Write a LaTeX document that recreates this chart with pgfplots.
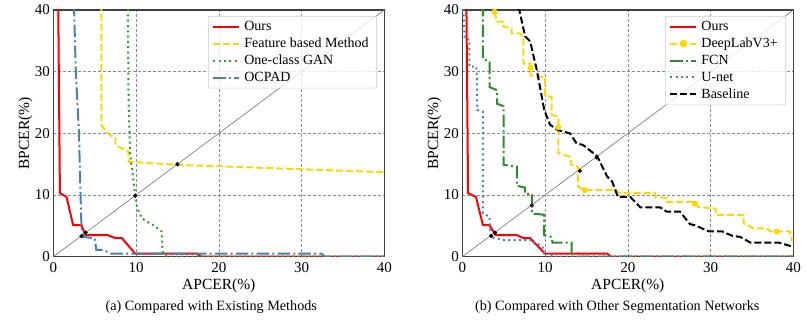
\documentclass[border=0pt]{standalone}
\usepackage{fontspec}
\setmainfont{Liberation Serif}
\usepackage{pgfplots}
\pgfplotsset{compat=1.18}
\definecolor{gold}{HTML}{FFD700}
\definecolor{ggreen}{HTML}{2CA02C}
\definecolor{fgreen}{HTML}{2E8B2E}
\definecolor{sblue}{HTML}{4682B4}
\tikzset{
  mplsolid/.style={line width=2pt},
  mpldashed/.style={line width=2pt, dash pattern=on 7pt off 3pt},
  mpldotted/.style={line width=2pt, dash pattern=on 2pt off 3.3pt},
  mpldashdot/.style={line width=2pt, dash pattern=on 12.5pt off 3.2pt on 2pt off 3.2pt},
}
\pgfplotsset{
  myaxis/.style={
    scale only axis, width=331pt, height=246.7pt,
    xmin=0,xmax=40,ymin=0,ymax=40,
    xtick={0,10,20,30,40}, ytick={0,10,20,30,40},
    grid=major, grid style={dash pattern=on 3pt off 2pt, gray!90, line width=0.6pt},
    major tick length=0pt,
    axis line style={black!75, line width=1.2pt},
    tick label style={font=\fontsize{15}{17}\selectfont},
    xticklabel style={yshift=-2pt},
    label style={font=\fontsize{15.5}{18}\selectfont},
    xlabel style={at={(axis description cs:0.5,0)}, anchor=base, yshift=-33pt},
    ylabel style={at={(axis description cs:0,0.5)}, anchor=center, rotate=0, yshift=28pt},
    /pgf/number format/assume math mode=true,
    xlabel={APCER(\%)}, ylabel={BPCER(\%)},
    legend cell align=left,
    legend style={at={(rel axis cs:0.978,0.976)}, anchor=north east, draw=gray!40, line width=0.6pt, rounded corners=2pt, fill=white, fill opacity=0.8, text opacity=1, draw opacity=1, font=\fontsize{14}{15}\selectfont, inner xsep=4pt, inner ysep=3pt, row sep=2pt, nodes={inner xsep=4pt}},
    legend image code/.code={\draw[mark repeat=2,mark phase=2,##1] plot coordinates {(0pt,0pt) (13pt,0pt) (26pt,0pt)};},
  },
  dots/.style={only marks, mark=*, black, mark size=1.9pt, forget plot},
  diag/.style={gray, line width=0.7pt, forget plot},
}
\begin{document}
\begin{tikzpicture}
\begin{axis}[myaxis, at={(0pt,0pt)}, anchor=south west]
\addplot[diag] coordinates {(0,0) (40,40)};
\addplot[red, mplsolid] coordinates {(0.6,41) (0.6,40) (0.8,10.3) (1.6,9.7) (2.4,5.1) (3.4,5.1) (3.9,3.5) (6.6,3.5) (7.5,3.0) (8.3,3.0) (9.9,0.5) (17.3,0.5) (17.9,0) (40,0)};
\addlegendentry{Ours}
\addplot[gold, mpldashed] coordinates {(5.8,41) (5.8,21.4) (6.6,20) (7.5,19.2) (7.5,18.1) (9.1,17.0) (9.1,15.4) (14.9,14.9) (40,13.7)};
\addlegendentry{Feature based Method}
\addplot[ggreen, mpldotted] coordinates {(9.0,41) (9.1,25) (9.3,16.5) (9.9,10) (10.1,8.1) (10.7,6.2) (12.1,5.1) (13.1,4.1) (13.2,0.8) (13.7,0) (40,0)};
\addlegendentry{One-class GAN}
\addplot[sblue, mpldashdot] coordinates {(2.5,41) (2.7,30.8) (3.1,20) (3.3,9.7) (3.4,4.9) (3.6,3.2) (5.0,3.0) (5.2,1.1) (6.0,1.1) (7.0,0.5) (32.4,0.5) (32.8,0) (40,0)};
\addlegendentry{OCPAD}
\addplot[dots] coordinates {(3.4,3.35) (3.9,3.9) (9.9,9.9) (15,15)};
\end{axis}
\node[anchor=base, font=\fontsize{14.2}{16}\selectfont] at (158pt,-53.3pt) {(a) Compared with Existing Methods};
\begin{axis}[myaxis, at={(409pt,0pt)}, anchor=south west]
\addplot[diag] coordinates {(0,0) (40,40)};
\addplot[red, mplsolid] coordinates {(0.5,41) (0.5,40) (0.7,10.3) (1.65,9.7) (2.5,5.1) (3.3,5.1) (4.0,3.5) (6.6,3.5) (7.4,3.0) (8.2,3.0) (10,0.5) (17.5,0.5) (18,0) (40,0)};
\addlegendentry{Ours}
\addplot[gold, mpldashed, legend image post style={mark=*, mark size=2.8pt, mark options={solid, fill=gold, draw=gold}}] coordinates {(3.9,39.7) (4.15,38.1) (4.96,38.1) (4.96,37.3) (5.97,37.0) (5.97,36.2) (6.97,36.2) (7.37,35.7) (7.37,31.3) (8.26,31.3) (8.26,30.6) (8.26,29.4) (9.8,29.1) (10.0,29.1) (10.0,26.2) (10.8,25.9) (10.8,23) (11.6,22.7) (11.6,21) (11.6,16.8) (13.0,16.2) (13.2,14.9) (14.0,14.6) (14.0,11.4) (14.8,10.8) (18.7,10.8) (18.9,10.3) (23.3,10.3) (23.3,9.7) (24.7,9.5) (24.7,8.9) (28.1,8.9) (28.1,8.6) (28.5,8.1) (30.6,7.8) (30.6,6.8) (34,6.8) (34,5.4) (35.2,4.6) (36.8,4.6) (37.2,4.1) (38,4.1) (39.6,4.1) (39.8,2.7) (40,2.7)};
\addlegendentry{DeepLabV3+}
\addplot[only marks, mark=*, gold, mark size=2.8pt, forget plot] coordinates {(3.9,39.7) (8.26,30.6) (11.6,21) (14.8,10.8) (28.1,8.6) (38,4.1)};
\addplot[fgreen, mpldashdot] coordinates {(2.5,41) (2.5,32) (3.3,31.7) (3.3,27.5) (4.2,27) (4.2,24.8) (5,24.4) (5,14.9) (6.6,14.6) (6.6,11.5) (7.6,11.2) (7.6,10.2) (8.4,10.2) (8.4,7.0) (9.9,6.8) (9.9,3.5) (10.8,3.2) (10.9,2.3) (13.2,2.3) (13.2,0) (40,0)};
\addlegendentry{FCN}
\addplot[sblue, mpldotted] coordinates {(0.1,41) (0.3,35.4) (0.85,35.2) (0.85,30.8) (1.7,30.8) (1.8,28) (1.8,23.8) (2.5,23.5) (2.5,7.0) (3.3,6.5) (3.4,3.2) (5,2.7) (8.2,2.7) (8.4,2.2) (9,2.2) (9.8,1.4) (9.9,0.5) (10.8,0.5) (10.8,0) (40,0)};
\addlegendentry{U-net}
\addplot[black, mpldashed] coordinates {(6.8,40.5) (7.6,35.7) (8.2,34.9) (9,30.3) (9.9,23.8) (10.6,21.4) (11.6,20.5) (13,20) (13.8,18.4) (14.6,18.1) (16.3,16.3) (17.5,13) (18.1,12.2) (18.8,9.7) (20.3,9.7) (21.5,8.0) (23.9,8.0) (24.7,7.3) (26.3,7.3) (27.5,5.3) (28.1,5.1) (29.8,4.1) (31.4,4.1) (32.6,3.4) (33.6,3.2) (34.8,2.3) (38.2,2.3) (40,1.6)};
\addlegendentry{Baseline}
\addplot[dots] coordinates {(3.5,3.35) (3.95,3.9) (8.4,8.3) (14.2,13.9) (16.25,16.1)};
\end{axis}
\node[anchor=base, font=\fontsize{14.2}{16}\selectfont] at (564pt,-53.3pt) {(b) Compared with Other Segmentation Networks};
\pgfresetboundingbox
\path[use as bounding box] (-53.3pt,-67.3pt) rectangle (752.7pt,256.7pt);
\end{tikzpicture}
\end{document}
